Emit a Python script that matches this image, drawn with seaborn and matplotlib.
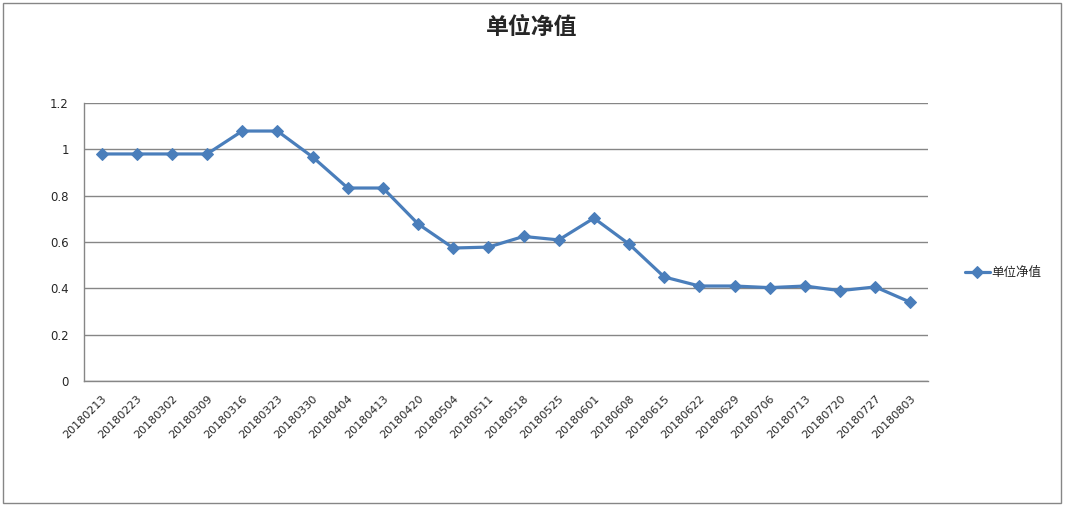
import matplotlib
matplotlib.use("Agg")
import matplotlib.pyplot as plt
import seaborn as sns
import pandas as pd
from matplotlib.patches import Rectangle

dates = ["20180213", "20180223", "20180302", "20180309", "20180316", "20180323",
         "20180330", "20180404", "20180413", "20180420", "20180504", "20180511",
         "20180518", "20180525", "20180601", "20180608", "20180615", "20180622",
         "20180629", "20180706", "20180713", "20180720", "20180727", "20180803"]
nav = [0.980, 0.980, 0.980, 0.980, 1.079, 1.079,
       0.967, 0.833, 0.833, 0.678, 0.574, 0.578,
       0.624, 0.609, 0.703, 0.591, 0.449, 0.410,
       0.410, 0.403, 0.410, 0.390, 0.406, 0.340]
yticks = [0, 0.2, 0.4, 0.6, 0.8, 1, 1.2]
ytick_labels = ["0", "0.2", "0.4", "0.6", "0.8", "1", "1.2"]
series_name = "单位净值"

sns.set_style("white")
plt.rcParams["font.family"] = ["Noto Sans CJK SC", "DejaVu Sans"]

df = pd.DataFrame({"date": dates, "nav": nav})

fig = plt.figure(figsize=(10.65, 5.07), dpi=100)
# chart frame like the Excel chart area
fig.patches.append(Rectangle((3 / 1065, 4 / 507), 1058 / 1065, 500 / 507,
                             transform=fig.transFigure, fill=False,
                             edgecolor="#868686", linewidth=1.0))

ax = fig.add_axes([84 / 1065, 1 - 381 / 507, 844 / 1065, 278 / 507])
sns.lineplot(data=df, x="date", y="nav", ax=ax, color="#4A7EBB",
             linewidth=2.3, marker="D", markersize=6, markeredgecolor="#4A7EBB",
             label=series_name, sort=False)

ax.set_xlim(-0.5, len(dates) - 0.5)
ax.set_ylim(0, 1.2)
ax.set_yticks(yticks)
ax.set_yticklabels(ytick_labels, fontsize=8.5, family="DejaVu Sans")
ax.yaxis.grid(True, color="#868686", linewidth=1.0)
ax.set_axisbelow(True)

ax.set_xticks(range(len(dates)))
ax.set_xticklabels(dates, rotation=45, ha="right", rotation_mode="anchor",
                   fontsize=8, family="DejaVu Sans")
ax.set_xticks([i - 0.5 for i in range(len(dates) + 1)], minor=True)
ax.tick_params(axis="x", which="major", length=0, pad=9)
ax.tick_params(axis="x", which="minor", length=5, color="#868686", width=1)
ax.tick_params(axis="y", which="major", length=5, color="#868686", width=1, pad=6)

for s in ["top", "right"]:
    ax.spines[s].set_visible(False)
for s in ["left", "bottom"]:
    ax.spines[s].set_color("#868686")
    ax.spines[s].set_linewidth(1.0)

ax.set_xlabel("")
ax.set_ylabel("")

ax.legend(loc="center left", bbox_to_anchor=(1.03, 0.39), frameon=False,
          fontsize=9, handlelength=2.0, handletextpad=0.1)

fig.text(532 / 1065, 1 - 27 / 507, "单位净值", ha="center", va="center",
         fontsize=16.5, fontweight="bold")

fig.savefig("out.png", dpi=100)
